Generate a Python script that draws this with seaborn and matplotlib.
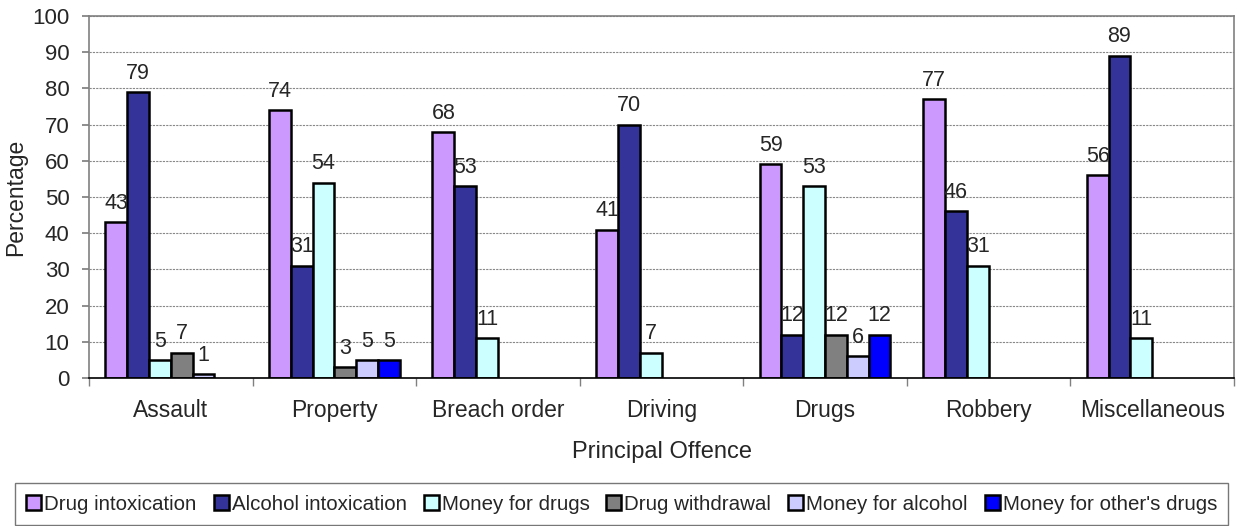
import numpy as np
import pandas as pd
import matplotlib
matplotlib.use("Agg")
import matplotlib.pyplot as plt
import seaborn as sns

categories = ["Assault", "Property", "Breach order", "Driving", "Drugs", "Robbery", "Miscellaneous"]
series_names = ["Drug intoxication", "Alcohol intoxication", "Money for drugs",
                "Drug withdrawal", "Money for alcohol", "Money for other's drugs"]
drug_intox = [43, 74, 68, 41, 59, 77, 56]
alcohol_intox = [79, 31, 53, 70, 12, 46, 89]
money_drugs = [5, 54, 11, 7, 53, 31, 11]
drug_withdrawal = [7, 3, np.nan, np.nan, 12, np.nan, np.nan]
money_alcohol = [1, 5, np.nan, np.nan, 6, np.nan, np.nan]
money_others = [np.nan, 5, np.nan, np.nan, 12, np.nan, np.nan]
colors = ["#CC99FF", "#333399", "#CCFFFF", "#808080", "#CCCCFF", "#0000FF"]
yticks = list(range(0, 101, 10))

series_values = [drug_intox, alcohol_intox, money_drugs, drug_withdrawal, money_alcohol, money_others]
rows = []
for name, vals in zip(series_names, series_values):
    for cat, v in zip(categories, vals):
        if not np.isnan(v):
            rows.append({"Offence": cat, "Reason": name, "Percentage": v})
df = pd.DataFrame(rows)

sns.set_theme(style="white")
plt.rcParams["font.family"] = ["Liberation Sans", "DejaVu Sans"]

fig = plt.figure(figsize=(12.43, 5.26), dpi=100)
ax = fig.add_axes([89 / 1243, 1 - 378 / 526, (1234 - 89) / 1243, (378 - 16) / 526])

sns.barplot(data=df, x="Offence", y="Percentage", hue="Reason",
            order=categories, hue_order=series_names, palette=colors,
            width=0.8, errorbar=None, edgecolor="black", linewidth=1.8,
            saturation=1, ax=ax)

for cont in ax.containers:
    ax.bar_label(cont, fmt="%d", padding=6, fontsize=15.5)

ax.set_ylim(0, 100)
ax.set_xlim(-0.5, len(categories) - 0.5)
ax.set_yticks(yticks)
ax.tick_params(axis="y", labelsize=16, length=5, color="#808080", direction="out",
               left=True, pad=9)
ax.set_xticks(np.arange(len(categories) + 1) - 0.5, minor=True)
ax.tick_params(axis="x", which="major", labelsize=16.5, length=0, pad=15, bottom=True)
ax.tick_params(axis="x", which="minor", length=6, color="#808080", bottom=True)
ax.yaxis.grid(True, linestyle=(0, (2, 1)), color="#888888", linewidth=0.8)
ax.set_axisbelow(True)
ax.set_ylabel("Percentage", fontsize=16.5, labelpad=4)
ax.set_xlabel("Principal Offence", fontsize=17, labelpad=14)
for side in ["left", "top", "right"]:
    ax.spines[side].set_color("#808080")
    ax.spines[side].set_linewidth(1.2)
ax.spines["bottom"].set_color("black")
ax.spines["bottom"].set_linewidth(1.2)

handles, labels = ax.get_legend_handles_labels()
ax.legend_.remove()
leg = fig.legend(handles, labels, loc="lower left",
                 bbox_to_anchor=(15 / 1243, 1 / 526),
                 ncol=6, fontsize=14.8, frameon=True, fancybox=False,
                 edgecolor="black", handlelength=0.73, handleheight=0.73,
                 handletextpad=0.15, columnspacing=0.82, borderpad=0.55,
                 borderaxespad=0.0)
leg.get_frame().set_linewidth(1.0)
leg.get_frame().set_edgecolor("#555555")

fig.savefig("out.png", dpi=100)
